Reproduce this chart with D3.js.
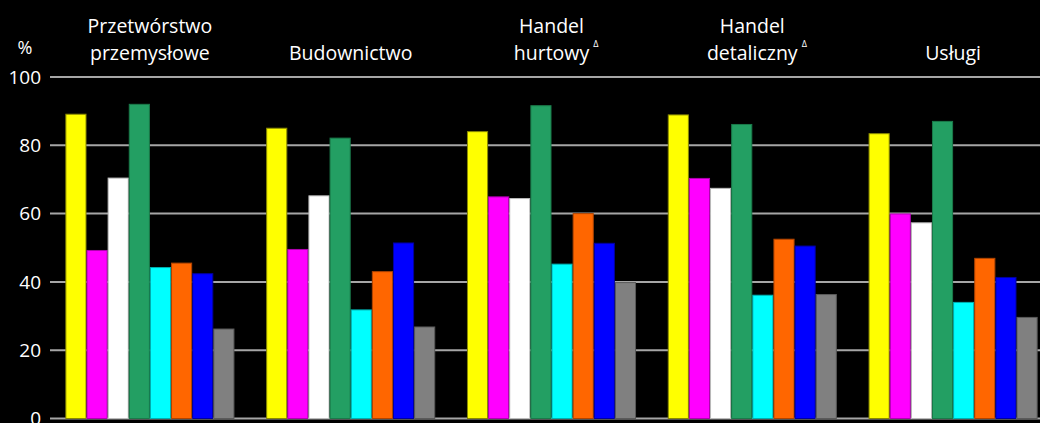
<!DOCTYPE html>
<html lang="pl">
<head>
    <meta charset="UTF-8">
    <title>Wykres</title>
    <script src="https://d3js.org/d3.v7.min.js"></script>
    <style>
        html, body { margin: 0; padding: 0; background: #000; overflow: hidden; }
        text { font-family: "Open Sans", sans-serif; fill: #fff; }
    </style>
</head>
<body>

    <script>

        // sectors (title lines, superscript mark)
        var sectors = ["Przetwórstwo przemysłowe", "Budownictwo", "Handel hurtowy", "Handel detaliczny", "Usługi"];
        var sectorLines = [["Przetwórstwo", "przemysłowe"], ["Budownictwo"], ["Handel", "hurtowy"], ["Handel", "detaliczny"], ["Usługi"]];
        var sectorMark = [false, false, true, true, false];

        // one array per series (8 bars in each group)
        var seriesYellow  = [89.1, 85.0, 84.0, 88.9, 83.4];
        var seriesMagenta = [49.2, 49.5, 64.9, 70.3, 59.9];
        var seriesWhite   = [70.4, 65.2, 64.4, 67.4, 57.3];
        var seriesGreen   = [92.0, 82.1, 91.6, 86.1, 87.0];
        var seriesCyan    = [44.2, 31.8, 45.2, 36.1, 34.0];
        var seriesOrange  = [45.5, 43.0, 60.0, 52.5, 46.9];
        var seriesBlue    = [42.4, 51.4, 51.3, 50.5, 41.3];
        var seriesGray    = [26.2, 26.8, 39.8, 36.3, 29.6];

        var yTicks = [0, 20, 40, 60, 80, 100];

        var series = [seriesYellow, seriesMagenta, seriesWhite, seriesGreen, seriesCyan, seriesOrange, seriesBlue, seriesGray];
        var fills   = ["#ffff00", "#ff00ff", "#ffffff", "#239f63", "#00ffff", "#ff6600", "#0000ff", "#808080"];
        var strokes = ["#8a8a00", "#b000b0", "#bbbbbb", "#1a7a4a", "#00b0b0", "#b04400", "#0000a0", "#5a5a5a"];

        var width = 1040;
        var height = 423;

        var svg = d3.select("body")
            .append("svg")
            .attr("width", width)
            .attr("height", height);

        var x0 = d3.scaleBand()
            .domain(sectors)
            .range([49.5, 1053.5])
            .paddingInner(0.158)
            .paddingOuter(0.079);

        var x1 = d3.scaleBand()
            .domain(d3.range(series.length))
            .range([0, x0.bandwidth()]);

        var y = d3.scaleLinear()
            .domain([0, 100])
            .range([418.5, 77]);

        // grid lines
        svg.append("g")
            .selectAll("line")
            .data(yTicks)
            .enter()
                .append("line")
                .attr("x1", 50)
                .attr("x2", width)
                .attr("y1", function (d) { return y(d); })
                .attr("y2", function (d) { return y(d); })
                .attr("stroke", "#a6a6a6")
                .attr("stroke-width", 2);

        // tick labels
        svg.append("g")
            .selectAll("text")
            .data(yTicks)
            .enter()
                .append("text")
                .attr("x", 41)
                .attr("y", function (d) { return y(d); })
                .attr("dy", "0.35em")
                .attr("text-anchor", "end")
                .attr("font-size", 19)
                .text(function (d) { return d; });

        svg.append("text")
            .attr("x", 25)
            .attr("y", 54)
            .attr("text-anchor", "middle")
            .attr("font-size", 18)
            .text("%");

        // bars
        var groups = svg.selectAll("g.sector")
            .data(sectors)
            .enter()
                .append("g")
                .attr("class", "sector")
                .attr("transform", function (d) { return "translate(" + x0(d) + ",0)"; });

        groups.selectAll("rect")
            .data(function (d, i) { return series.map(function (s, k) { return { k: k, v: s[i] }; }); })
            .enter()
                .append("rect")
                .attr("x", function (d) { return x1(d.k) + 0.5; })
                .attr("width", x1.bandwidth() - 1)
                .attr("y", function (d) { return y(d.v); })
                .attr("height", function (d) { return y(0) - y(d.v); })
                .attr("fill", function (d) { return fills[d.k]; })
                .attr("stroke", function (d) { return strokes[d.k]; })
                .attr("stroke-width", 1);

        // group titles
        groups.each(function (d, i) {
            var lines = sectorLines[i];
            var cx = x0.bandwidth() / 2;
            var t = d3.select(this).append("text")
                .attr("text-anchor", "middle")
                .attr("font-size", 19.5);
            lines.forEach(function (ln, j) {
                var ts = t.append("tspan")
                    .attr("x", cx)
                    .attr("y", 60 - (lines.length - 1 - j) * 27)
                    .text(ln);
            });
            if (sectorMark[i]) {
                var last = t.node().lastChild;
                var w = last.getComputedTextLength();
                d3.select(this).append("text")
                    .attr("x", cx + w / 2 + 4)
                    .attr("y", 47)
                    .attr("font-size", 9)
                    .text("Δ");
            }
        });

    </script>

</body>
</html>
